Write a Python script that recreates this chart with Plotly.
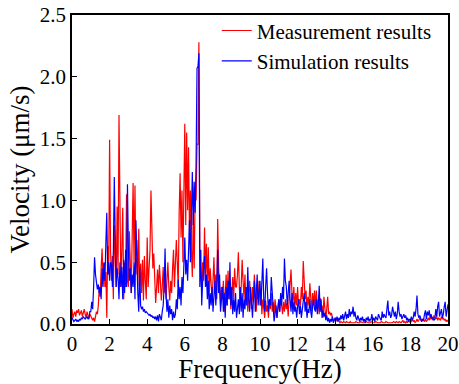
import numpy as np
import plotly.graph_objects as go

# Frequency grid (Hz), 0.05 Hz resolution
freq = np.round(np.arange(401) * 0.05, 2)

# Measurement results (um/s), one row per 1 Hz
meas_rows = [
    [0.12,0.05,0.08,0.10,0.06,0.11,0.09,0.12,0.07,0.10,0.11,0.06,0.09,0.12,0.08,0.05,0.10,0.07,0.04,0.08],
    [0.06,0.04,0.03,0.05,0.02,0.06,0.10,0.08,0.15,0.30,0.22,0.45,0.61,0.35,0.49,0.30,0.42,0.05,0.63,0.40],
    [1.49,0.60,0.35,0.55,0.20,0.80,0.45,0.30,0.95,0.40,1.69,1.00,0.30,0.60,0.94,0.20,0.50,0.30,1.05,0.35],
    [0.30,0.75,0.40,0.25,0.70,1.14,0.50,1.12,0.40,0.68,0.31,0.77,0.30,0.49,0.25,0.52,0.19,0.55,0.35,0.20],
    [0.70,0.30,0.45,0.60,1.08,0.70,0.45,0.57,0.30,0.17,0.30,0.44,0.25,0.48,0.35,0.19,0.30,0.46,0.25,0.38],
    [0.20,0.35,0.50,0.30,0.19,0.35,0.25,0.45,0.60,0.30,0.45,0.68,0.50,0.30,0.90,1.22,0.70,1.08,0.50,1.20],
    [1.62,0.80,1.55,0.92,1.43,0.70,1.08,0.60,0.38,0.90,0.45,1.04,1.00,1.46,1.45,2.28,0.60,0.40,0.30,0.50],
    [0.35,0.78,0.40,0.65,0.30,0.62,0.25,0.45,0.30,0.20,0.35,0.54,0.25,0.40,0.20,0.85,0.45,0.30,0.15,0.30],
    [0.20,0.35,0.10,0.25,0.40,0.15,0.43,0.20,0.30,0.12,0.25,0.38,0.20,0.45,0.30,0.30,0.40,0.58,0.30,0.15],
    [0.30,0.52,0.35,0.20,0.40,0.15,0.30,0.10,0.25,0.35,0.20,0.12,0.30,0.18,0.40,0.25,0.10,0.30,0.20,0.35],
    [0.15,0.25,0.08,0.20,0.12,0.05,0.19,0.10,0.15,0.05,0.20,0.12,0.25,0.10,0.18,0.08,0.20,0.14,0.05,0.12],
    [0.20,0.10,0.22,0.15,0.08,0.18,0.10,0.20,0.12,0.17,0.06,0.20,0.35,0.44,0.25,0.18,0.30,0.12,0.25,0.15],
    [0.30,0.15,0.20,0.15,0.30,0.20,0.51,0.30,0.20,0.27,0.12,0.22,0.15,0.33,0.20,0.10,0.25,0.15,0.27,0.12],
    [0.27,0.12,0.20,0.08,0.21,0.10,0.15,0.05,0.22,0.10,0.04,0.12,0.22,0.08,0.10,0.07,0.09,0.05,0.03,0.04],
    [0.03,0.05,0.02,0.04,0.02,0.01,0.02,0.01,0.01,0.02,0.01,0.01,0.02,0.01,0.01,0.01,0.02,0.01,0.01,0.01],
    [0.01,0.01,0.02,0.01,0.01,0.01,0.01,0.02,0.01,0.01,0.01,0.01,0.01,0.02,0.01,0.01,0.01,0.01,0.02,0.01],
    [0.01,0.01,0.01,0.02,0.01,0.01,0.01,0.01,0.01,0.02,0.01,0.01,0.01,0.01,0.02,0.01,0.01,0.01,0.01,0.01],
    [0.01,0.01,0.02,0.01,0.01,0.02,0.01,0.01,0.02,0.01,0.01,0.02,0.03,0.01,0.02,0.01,0.02,0.01,0.03,0.02],
    [0.01,0.02,0.04,0.02,0.03,0.01,0.02,0.04,0.02,0.03,0.05,0.03,0.02,0.04,0.03,0.02,0.04,0.02,0.03,0.05],
    [0.03,0.05,0.04,0.06,0.03,0.07,0.05,0.04,0.06,0.03,0.05,0.04,0.03,0.06,0.04,0.05,0.03,0.04,0.02,0.03],
    [0.02],
]

# Simulation results (um/s), one row per 1 Hz
sim_rows = [
    [0.05,0.03,0.02,0.03,0.04,0.02,0.03,0.02,0.04,0.03,0.05,0.04,0.06,0.05,0.04,0.05,0.06,0.04,0.05,0.10],
    [0.10,0.18,0.12,0.30,0.54,0.40,0.30,0.28,0.32,0.25,0.30,0.20,0.45,0.30,0.50,0.35,0.65,0.90,0.40,0.50],
    [0.35,0.50,0.48,0.30,0.60,1.19,0.70,0.30,0.45,0.37,0.20,0.50,0.30,0.46,0.20,0.52,0.25,0.60,0.30,1.13],
    [0.60,0.35,0.45,0.25,0.40,0.30,0.50,0.20,0.84,0.50,0.25,0.10,0.46,0.15,0.12,0.14,0.10,0.12,0.09,0.10],
    [0.09,0.08,0.07,0.08,0.06,0.07,0.05,0.06,0.04,0.06,0.03,0.07,0.02,0.08,0.05,0.03,0.10,0.15,0.30,0.61],
    [0.25,0.10,0.20,0.05,0.15,0.08,0.12,0.03,0.10,0.05,0.08,0.20,0.12,0.36,0.20,0.30,0.15,0.38,0.25,0.50],
    [0.70,0.40,0.52,0.35,0.60,0.84,0.50,0.90,1.23,0.80,1.15,0.90,1.30,2.07,2.08,2.19,0.30,0.60,0.15,0.35],
    [0.45,0.55,0.30,0.40,0.20,0.35,0.12,0.25,0.15,0.30,0.10,0.20,0.35,0.15,0.30,0.60,0.25,0.40,0.10,0.20],
    [0.30,0.10,0.25,0.05,0.30,0.15,0.35,0.20,0.50,0.15,0.30,0.08,0.20,0.10,0.25,0.05,0.15,0.20,0.08,0.30],
    [0.10,0.25,0.05,0.20,0.12,0.30,0.15,0.46,0.20,0.10,0.30,0.15,0.05,0.20,0.35,0.10,0.25,0.40,0.15,0.30],
    [0.35,0.15,0.30,0.53,0.20,0.10,0.30,0.45,0.25,0.10,0.20,0.15,0.38,0.25,0.10,0.02,0.08,0.15,0.05,0.11],
    [0.20,0.10,0.25,0.15,0.30,0.20,0.53,0.35,0.30,0.15,0.25,0.35,0.20,0.10,0.25,0.08,0.18,0.10,0.14,0.05],
    [0.14,0.20,0.08,0.15,0.05,0.11,0.20,0.25,0.10,0.18,0.05,0.12,0.09,0.20,0.10,0.05,0.15,0.20,0.12,0.10],
    [0.20,0.08,0.15,0.31,0.10,0.20,0.05,0.11,0.06,0.09,0.03,0.07,0.02,0.05,0.01,0.04,0.02,0.06,0.01,0.03],
    [0.05,0.03,0.06,0.02,0.05,0.03,0.07,0.04,0.08,0.03,0.06,0.10,0.04,0.08,0.05,0.12,0.06,0.10,0.08,0.14],
    [0.06,0.10,0.05,0.03,0.07,0.04,0.02,0.05,0.03,0.06,0.02,0.04,0.01,0.05,0.03,0.06,0.02,0.04,0.03,0.08],
    [0.03,0.05,0.02,0.06,0.04,0.03,0.08,0.05,0.04,0.03,0.10,0.05,0.08,0.06,0.05,0.12,0.19,0.07,0.10,0.05],
    [0.07,0.14,0.08,0.06,0.10,0.04,0.08,0.18,0.10,0.06,0.08,0.04,0.06,0.08,0.05,0.07,0.03,0.05,0.02,0.04],
    [0.03,0.06,0.03,0.05,0.10,0.06,0.12,0.23,0.08,0.05,0.07,0.03,0.02,0.04,0.03,0.08,0.11,0.04,0.10,0.07],
    [0.11,0.05,0.08,0.04,0.05,0.03,0.04,0.12,0.06,0.14,0.18,0.06,0.10,0.12,0.05,0.08,0.14,0.18,0.06,0.10],
    [0.16],
]

measurement = [v for row in meas_rows for v in row]
simulation = [v for row in sim_rows for v in row]

x_ticks = [0, 2, 4, 6, 8, 10, 12, 14, 16, 18, 20]
y_ticks = [0.0, 0.5, 1.0, 1.5, 2.0, 2.5]

SERIF = "Liberation Serif"

fig = go.Figure()
fig.add_trace(go.Scatter(x=freq, y=measurement, mode="lines", name="Measurement results",
                         line=dict(color="#ff0000", width=1.2)))
fig.add_trace(go.Scatter(x=freq, y=simulation, mode="lines", name="Simulation results",
                         line=dict(color="#0000ff", width=1.2)))

fig.update_layout(
    template="none",
    width=459, height=384,
    margin=dict(l=72, r=11, t=15, b=60, autoexpand=False),
    plot_bgcolor="white", paper_bgcolor="white",
    font=dict(family=SERIF, size=21, color="black"),
    showlegend=True,
    legend=dict(x=0.385, y=1.015, xanchor="left", yanchor="top",
                font=dict(family=SERIF, size=21, color="black"),
                bgcolor="rgba(0,0,0,0)", tracegroupgap=0, itemwidth=30),
)
fig.update_xaxes(range=[0, 20], tickmode="array", tickvals=x_ticks, ticktext=[str(t) for t in x_ticks],
                 title_text="Frequency(Hz)", title_font_family=SERIF, title_font_size=27,
                 title_font_color="black", title_standoff=2,
                 showline=True, linecolor="black", linewidth=1.5, mirror=True,
                 ticks="inside", ticklen=5, tickwidth=1.2, tickcolor="black",
                 showgrid=False, zeroline=False, automargin=False,
                 tickfont_family=SERIF, tickfont_size=21, tickfont_color="black")
fig.update_yaxes(range=[0, 2.5], tickmode="array", tickvals=y_ticks, ticktext=[f"{t:.1f}" for t in y_ticks],
                 title_text="Velocity (μm/s)", title_font_family=SERIF, title_font_size=27,
                 title_font_color="black", title_standoff=2,
                 showline=True, linecolor="black", linewidth=1.5, mirror=True,
                 ticks="inside", ticklen=5, tickwidth=1.2, tickcolor="black",
                 showgrid=False, zeroline=False, automargin=False,
                 tickfont_family=SERIF, tickfont_size=21, tickfont_color="black")

fig.write_html("out.html")
